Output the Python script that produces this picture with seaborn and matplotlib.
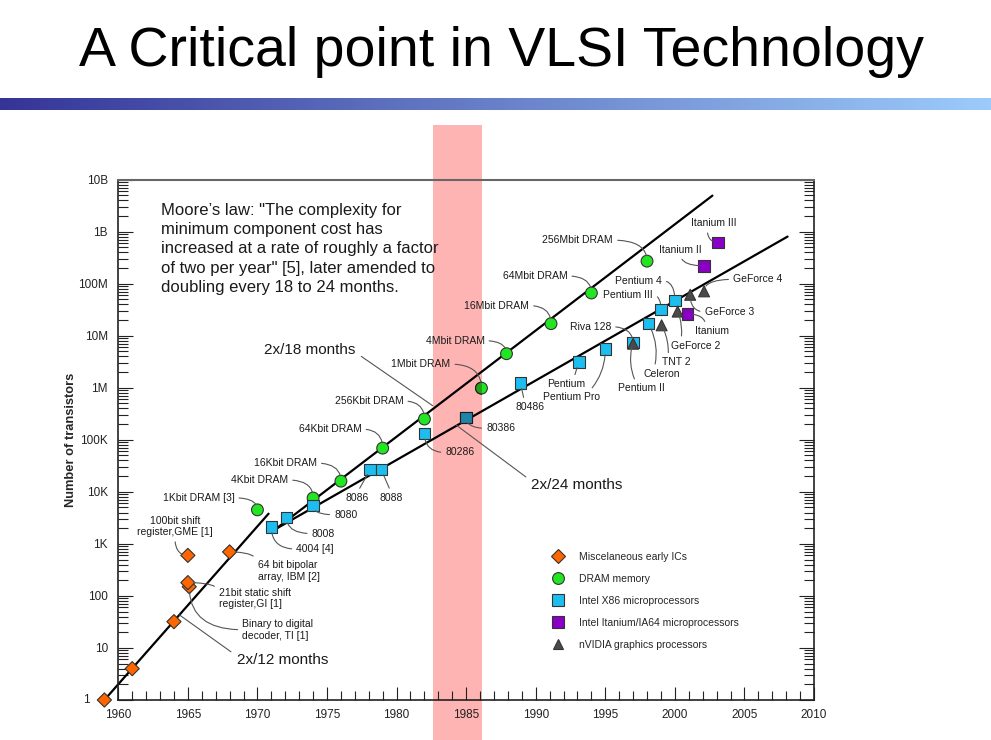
import numpy as np
import pandas as pd
import matplotlib
matplotlib.use("Agg")
import matplotlib.pyplot as plt
import matplotlib.colors as mcolors
import matplotlib.transforms as mtransforms
from matplotlib.patches import Rectangle
from matplotlib.ticker import (FixedLocator, FuncFormatter, MultipleLocator,
                               LogLocator, NullFormatter)
import seaborn as sns

# --- data ---
families = ["Miscelaneous early ICs", "DRAM memory", "Intel X86 microprocessors",
            "Intel Itanium/IA64 microprocessors", "nVIDIA graphics processors"]

misc_years = [1959, 1961, 1964, 1965.1, 1965, 1965, 1968]
misc_counts = [1, 4, 32, 150, 180, 600, 700]
misc_names = ["", "", "", "Binary to digital\ndecoder, TI [1]",
              "21bit static shift\nregister,GI [1]", "100bit shift\nregister,GME [1]",
              "64 bit bipolar\narray, IBM [2]"]

dram_years = [1970, 1974, 1976, 1979, 1982, 1986.1, 1987.9, 1991.1, 1994, 1998]
dram_counts = [4500, 7600, 16000, 69000, 250000, 980000, 4.5e6, 1.7e7, 6.6e7, 2.7e8]
dram_names = ["1Kbit DRAM [3]", "4Kbit DRAM", "16Kbit DRAM", "64Kbit DRAM", "256Kbit DRAM",
              "1Mbit DRAM", "4Mbit DRAM", "16Mbit DRAM", "64Mbit DRAM", "256Mbit DRAM"]

x86_years = [1971, 1972.1, 1974, 1978.1, 1978.9, 1982, 1985, 1988.9, 1993.1, 1995,
             1997, 1998.1, 1999, 2000]
x86_counts = [2100, 3200, 5400, 26500, 26500, 132000, 270000, 1.23e6, 3.1e6, 5.5e6,
              7.4e6, 1.7e7, 3.2e7, 4.7e7]
x86_names = ["4004 [4]", "8008", "8080", "8086", "8088", "80286", "80386", "80486",
             "Pentium", "Pentium Pro", "Pentium II", "Celeron", "Pentium III", "Pentium 4"]

ia64_years = [2000.9, 2002.1, 2003.1]
ia64_counts = [2.6e7, 2.2e8, 6.2e8]
ia64_names = ["Itanium", "Itanium II", "Itanium III"]

nv_years = [1997, 1999.05, 2000.2, 2001.1, 2002.1]
nv_counts = [7.0e6, 1.58e7, 2.9e7, 6.1e7, 7.1e7]
nv_names = ["Riva 128", "TNT 2", "GeForce 2", "GeForce 3", "GeForce 4"]

trend_names = ["2x/12 months", "2x/18 months", "2x/24 months"]
trend_years = [[1959.2, 1970.8], [1971.3, 2002.7], [1971.3, 2008.1]]
trend_counts = [[1.15, 3800], [1920, 4.9e9], [1920, 8.0e8]]
trend_label_years = [1964.4, 1982.6, 1984.3]
trend_label_counts = [43, 4.5e5, 1.9e5]

y_ticks = [1, 10, 100, 1e3, 1e4, 1e5, 1e6, 1e7, 1e8, 1e9, 1e10]
y_tick_labels = ["1", "10", "100", "1K", "10K", "100K", "1M", "10M", "100M", "1B", "10B"]

title = "A Critical point in VLSI Technology"
moore_text = ('Moore\u2019s law: "The complexity for\nminimum component cost has\n'
              'increased at a rate of roughly a factor\nof two per year" [5], later amended to\n'
              'doubling every 18 to 24 months.')

# --- layout / style ---
W, H = 991, 740
face = dict(zip(families, ["#FF6600", "#22E622", "#1CBEF0", "#8A00C4", "#4A4A4A"]))
marks = dict(zip(families, ["D", "o", "s", "s", "^"]))
areas = dict(zip(families, [52, 72, 68, 68, 62]))
band_color = "#FFB4B4"
leader_color = "#555555"

# name: (dx px, dy px, ha, connection, relpos)
label_layout = {
    "100bit shift\nregister,GME [1]": (-13, 29, "center", "v", (0.5, 0)),
    "64 bit bipolar\narray, IBM [2]": (28, -19, "left", "v", (0.0, 0.85)),
    "21bit static shift\nregister,GI [1]": (31, -16, "left", "v", (0.0, 0.8)),
    "Binary to digital\ndecoder, TI [1]": (53, -43, "left", "h", (0.0, 0.5)),
    "1Kbit DRAM [3]": (-23, 12, "right", "h", (1, 0.5)),
    "4Kbit DRAM": (-25, 18, "right", "h", (1, 0.5)),
    "16Kbit DRAM": (-24, 18, "right", "h", (1, 0.5)),
    "64Kbit DRAM": (-21, 19, "right", "h", (1, 0.5)),
    "256Kbit DRAM": (-21, 18, "right", "h", (1, 0.5)),
    "1Mbit DRAM": (-31, 24, "right", "h", (1, 0.5)),
    "4Mbit DRAM": (-22, 13, "right", "h", (1, 0.5)),
    "16Mbit DRAM": (-22, 18, "right", "h", (1, 0.5)),
    "64Mbit DRAM": (-24, 17, "right", "h", (1, 0.5)),
    "256Mbit DRAM": (-34, 21, "right", "h", (1, 0.5)),
    "4004 [4]": (25, -22, "left", "h", (0, 0.5)),
    "8008": (25, -16, "left", "h", (0, 0.5)),
    "8080": (21, -9, "left", "h", (0, 0.5)),
    "8086": (-13, -28, "center", "s", (0.5, 1)),
    "8088": (10, -28, "center", "s", (0.5, 1)),
    "80286": (21, -19, "left", "h", (0, 0.5)),
    "80386": (20, -11, "left", "h", (0, 0.5)),
    "80486": (10, -24, "center", "s", (0.3, 1)),
    "Pentium": (-13, -22, "center", "s", (0.7, 1)),
    "Pentium Pro": (-34, -48, "center", 0.2, (0.8, 1)),
    "Pentium II": (8, -46, "center", -0.2, (0.4, 1)),
    "Celeron": (13, -50, "center", 0.2, (0.3, 1)),
    "Pentium III": (-8, 14, "right", "h", (1, 0.5)),
    "Pentium 4": (-13, 20, "right", "h", (1, 0.5)),
    "Itanium": (25, -17, "center", "v", (0.3, 1)),
    "Itanium II": (-2, 16, "right", "v", (0.5, 0)),
    "Itanium III": (-4, 19, "center", "v", (0.35, 0)),
    "Riva 128": (-22, 17, "right", "h", (1, 0.5)),
    "TNT 2": (15, -37, "center", 0.15, (0.2, 1)),
    "GeForce 2": (18, -34, "center", 0.15, (0.2, 1)),
    "GeForce 3": (39, -17, "center", "h", (0, 0.5)),
    "GeForce 4": (29, 12, "left", "h", (0, 0.5)),
}
# trend label: (dx px, dy px, relpos)
trend_layout = [(57, -45, (0, 0.8)), (-77, 56, (1, 0.3)), (75, -60, (0, 0.8))]


def conn(style):
    if style == "h":
        return "angle3,angleA=0,angleB=90"
    if style == "v":
        return "angle3,angleA=90,angleB=0"
    if style == "s":
        return "arc3,rad=0"
    return f"arc3,rad={style}"


sns.set_style("ticks")
plt.rcParams["font.family"] = ["Liberation Sans", "DejaVu Sans"]

fig = plt.figure(figsize=(W / 100, H / 100), dpi=100)

# gradient bar under the title
bar = fig.add_axes([0, 1 - 110 / H, 1, 12.5 / H])
bar.imshow(np.linspace(0, 1, 256)[None, :], aspect="auto",
           cmap=mcolors.LinearSegmentedColormap.from_list("bar", ["#353597", "#9CCBFB"]))
bar.axis("off")

fig.text(501 / W, 1 - 66 / H, title, ha="center", va="baseline", fontsize=40, color="black")

# pink highlight band (multiply-like: drawn behind, darker copies of markers on top)
band_xy = (433.3 / W, 0)
band_w, band_h = (482 - 433.3) / W, 1 - 124.7 / H
fig.add_artist(Rectangle(band_xy, band_w, band_h, transform=fig.transFigure,
                         facecolor=band_color, edgecolor="none", zorder=-1))
band_clip = Rectangle(band_xy, band_w, band_h, transform=fig.transFigure)

ax = fig.add_axes([118.3 / W, 1 - 700 / H, (814 - 118.3) / W, (700 - 179.5) / H])
ax.set_facecolor("none")
ax.set_yscale("log")

frames = []
for fam, yrs, cnts, nms in zip(families,
                               [misc_years, dram_years, x86_years, ia64_years, nv_years],
                               [misc_counts, dram_counts, x86_counts, ia64_counts, nv_counts],
                               [misc_names, dram_names, x86_names, ia64_names, nv_names]):
    frames.append(pd.DataFrame({"family": fam, "year": yrs, "count": cnts, "name": nms}))
df = pd.concat(frames, ignore_index=True)

for i in range(3):
    sns.lineplot(x=trend_years[i], y=trend_counts[i], color="black", linewidth=1.6,
                 estimator=None, sort=False, ax=ax, clip_on=False, zorder=2, legend=False)

sns.scatterplot(data=df, x="year", y="count", hue="family", style="family", size="family",
                hue_order=families, style_order=families, size_order=families,
                palette=face, markers=marks, sizes=areas, edgecolor="#333333",
                linewidth=0.8, ax=ax, zorder=3, clip_on=False, legend="full")

pink = mcolors.to_rgb(band_color)
face_dark = {k: tuple(a * b for a, b in zip(mcolors.to_rgb(v), pink)) for k, v in face.items()}
sns.scatterplot(data=df, x="year", y="count", hue="family", style="family", size="family",
                hue_order=families, style_order=families, size_order=families,
                palette=face_dark, markers=marks, sizes=areas, edgecolor="#241818",
                linewidth=0.8, ax=ax, zorder=3.5, legend=False)
ax.collections[-1].set_clip_path(band_clip)

# point labels
for _, row in df[df["name"] != ""].iterrows():
    dx, dy, ha, style, rel = label_layout[row["name"]]
    ax.annotate(row["name"], xy=(row["year"], row["count"]), xytext=(dx, dy),
                textcoords="offset pixels", ha=ha, va="center", fontsize=7.5,
                color="#1a1a1a", annotation_clip=False, zorder=5,
                arrowprops=dict(arrowstyle="-", color=leader_color, lw=0.8,
                                connectionstyle=conn(style), relpos=rel,
                                shrinkA=1, shrinkB=4))

for name, lx, ly, (dx, dy, rel) in zip(trend_names, trend_label_years,
                                       trend_label_counts, trend_layout):
    ax.annotate(name, xy=(lx, ly), xytext=(dx, dy), textcoords="offset pixels",
                ha="left" if dx > 0 else "right", va="center", fontsize=11,
                color="#1a1a1a", annotation_clip=False, zorder=5,
                arrowprops=dict(arrowstyle="-", color=leader_color, lw=0.8,
                                relpos=rel, shrinkA=2, shrinkB=0))

fig.text(161 / W, 1 - 249 / H, moore_text, ha="left", va="center", fontsize=12,
         linespacing=1.34, color="#1a1a1a")

# axes cosmetics
ax.set_xlim(1960, 2010)
ax.set_ylim(1, 1e10)
ax.xaxis.set_major_locator(MultipleLocator(5))
ax.xaxis.set_minor_locator(MultipleLocator(1))
tick_text = dict(zip(y_ticks, y_tick_labels))


def y_label(v, pos):
    # the bottom "1" sits under the 1959 diamond, so it is drawn further left below
    if abs(np.log10(v)) < 1e-6:
        return ""
    return min(tick_text.items(), key=lambda kv: abs(np.log10(kv[0]) - np.log10(v)))[1]


ax.yaxis.set_major_locator(FixedLocator(y_ticks))
ax.yaxis.set_major_formatter(FuncFormatter(y_label))
ax.yaxis.set_minor_locator(LogLocator(base=10, subs=np.arange(2, 10), numticks=100))
ax.yaxis.set_minor_formatter(NullFormatter())
ax.tick_params(which="both", direction="in", top=False, right=True, left=True, bottom=True,
               colors="#222222", labelsize=8.5, width=0.8)
ax.tick_params(axis="x", which="major", length=9.5, pad=6.5)
ax.tick_params(axis="x", which="minor", length=6.5)
ax.tick_params(axis="y", which="major", length=10.5, pad=7.5)
ax.tick_params(axis="y", which="minor", length=7)
ax.text(-0.0405, y_ticks[0], y_tick_labels[0], ha="right", va="center", fontsize=8.5,
        color="#222222", transform=mtransforms.blended_transform_factory(ax.transAxes, ax.transData),
        clip_on=False)
for side in ["left", "bottom", "right"]:
    ax.spines[side].set_color("#222222")
    ax.spines[side].set_linewidth(1.2)
ax.spines["top"].set_color("#666666")
ax.spines["top"].set_linewidth(1.5)
ax.set_xlabel("")
ax.set_ylabel("Number of transistors", fontweight="bold", fontsize=9.3)
ax.yaxis.set_label_coords(-0.06, 0.5)

sns.move_legend(ax, "upper left", bbox_to_anchor=(549.4 / W, 1 - 551.7 / H),
                bbox_transform=fig.transFigure, frameon=False, title=None, fontsize=7.5,
                labelspacing=1.15, handlelength=1.6, handletextpad=1.2, borderpad=0,
                borderaxespad=0)

fig.savefig("out.png", dpi=100)
